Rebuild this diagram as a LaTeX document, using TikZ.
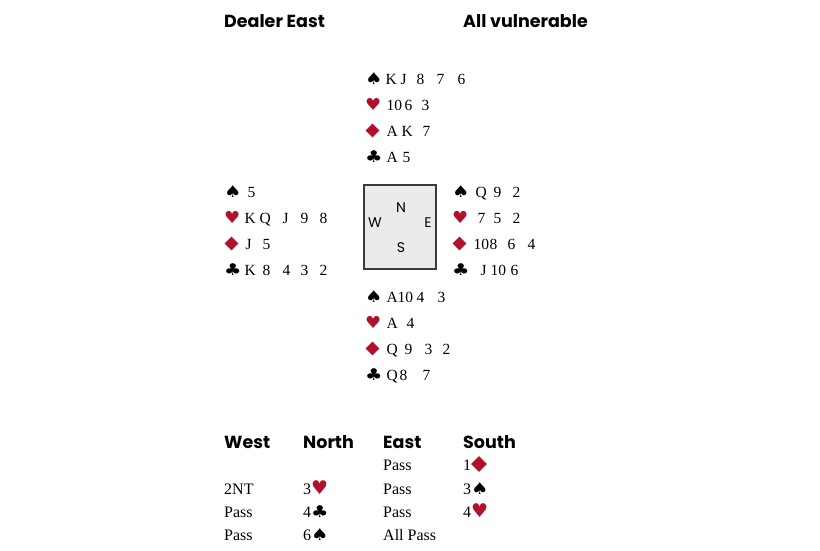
\documentclass[tikz,border=0pt]{standalone}
\usepackage{fontspec}
\usetikzlibrary{shapes.geometric}
\setmainfont{Liberation Serif}
\newfontfamily\hdrfont{Poppins}
\newfontfamily\suitfont{DejaVu Sans}
\definecolor{suitred}{RGB}{176,18,44}
\definecolor{boxfill}{RGB}{235,235,235}
\definecolor{boxline}{RGB}{60,60,60}
\newcommand\C[2]{\makebox[0pt][l]{\hspace{#1pt}#2}}
\newcommand\wsym[1]{\scalebox{1.08}[0.9]{#1}}
\tikzset{
  hdr/.style={anchor=base west, inner sep=0pt, font=\hdrfont\bfseries\fontsize{17.5}{17.5}\selectfont},
  cardtxt/.style={anchor=base west, inner sep=0pt, font=\fontsize{15.5}{15.5}\selectfont},
  suitsym/.style={anchor=base west, inner sep=0pt, font=\suitfont\fontsize{18}{18}\selectfont},
  diasym/.style={diamond, fill=suitred, inner sep=0pt, minimum width=14pt, minimum height=14pt},
  bidtxt/.style={anchor=base west, inner sep=0pt, font=\fontsize{16}{16}\selectfont},
  compass/.style={anchor=base, inner sep=0pt, font=\hdrfont\fontsize{14}{14}\selectfont},
  tablebox/.style={draw=boxline, fill=boxfill, line width=1.4pt}
}
% #1 prefix, #2 x of suit symbol, #3 baseline of first row, #4..#7 card lines
\newcommand\handrows[7]{%
  \node[suitsym] (#1sps) at (#2,#3) {\wsym{♠}};
  \node[cardtxt] (#1sp) at (#2+20,#3) {#4};
  \node[suitsym, text=suitred] (#1hes) at (#2,#3+26) {\scalebox{1.0}[0.92]{♥}};
  \node[cardtxt] (#1he) at (#2+20,#3+26) {#5};
  \node[diasym] (#1dis) at (#2+7.5,#3+52-5.5) {};
  \node[cardtxt] (#1di) at (#2+20,#3+52) {#6};
  \node[suitsym] (#1cls) at (#2,#3+78) {\wsym{♣}};
  \node[cardtxt] (#1cl) at (#2+20,#3+78) {#7};
}
\begin{document}
\begin{tikzpicture}[x=1pt,y=-1pt]
\useasboundingbox (0,0) rectangle (820,550);
% header
\node[hdr] (dealer) at (224,27) {Dealer East};
\node[hdr] (vul) at (463,27) {All vulnerable};
% North
\handrows{n}{365}{84}
  {\C{0}{K}\C{15}{J}\C{31}{8}\C{51}{7}\C{72}{6}\hspace{80pt}}
  {\C{1}{10}\C{19}{6}\C{36}{3}\hspace{44pt}}
  {\C{1}{A}\C{16}{K}\C{37}{7}\hspace{45pt}}
  {\C{1}{A}\C{17}{5}\hspace{25pt}}
% West
\handrows{w}{224}{197}
  {\C{3}{5}\hspace{11pt}}
  {\C{0}{K}\C{15}{Q}\C{38}{J}\C{56}{9}\C{75}{8}\hspace{83pt}}
  {\C{1}{J}\C{18}{5}\hspace{26pt}}
  {\C{0}{K}\C{18}{8}\C{38}{4}\C{56}{3}\C{75}{2}\hspace{83pt}}
% East
\handrows{e}{452}{197}
  {\C{3}{Q}\C{21}{9}\C{40}{2}\hspace{48pt}}
  {\C{5}{7}\C{21}{5}\C{40}{2}\hspace{48pt}}
  {\C{1}{10}\C{17}{8}\C{35}{6}\C{55}{4}\hspace{63pt}}
  {\C{8}{J}\C{18}{10}\C{38}{6}\hspace{46pt}}
% South
\handrows{s}{365}{302}
  {\C{1}{A}\C{12}{10}\C{31}{4}\C{52}{3}\hspace{60pt}}
  {\C{1}{A}\C{21}{4}\hspace{29pt}}
  {\C{1}{Q}\C{19}{9}\C{39}{3}\C{57}{2}\hspace{65pt}}
  {\C{1}{Q}\C{14}{8}\C{37}{7}\hspace{45pt}}
% table
\node[tablebox, minimum width=72pt, minimum height=84pt, inner sep=0pt] (table) at (400,227) {};
\node[compass] (cn) at (401,212.5) {N};
\node[compass] (cw) at (375,227.5) {W};
\node[compass] (ce) at (428,227.5) {E};
\node[compass] (cs) at (401,252.5) {S};
% auction
\node[hdr] (hw) at (224,448) {West};
\node[hdr] (hn) at (303,448) {North};
\node[hdr] (he) at (383,448) {East};
\node[hdr] (hs) at (463,448) {South};
\node[bidtxt] (b1e) at (383,470) {Pass};
\node[bidtxt] (b1s) at (463,470) {1};
\node[diasym, minimum width=16pt, minimum height=16pt] (b1sd) at (479,464) {};
\node[bidtxt] (b2w) at (224,494) {2NT};
\node[bidtxt] (b2n) at (303,494) {3{\suitfont\fontsize{19}{19}\selectfont\color{suitred}♥}};
\node[bidtxt] (b2e) at (383,494) {Pass};
\node[bidtxt] (b2s) at (463,494) {3{\suitfont\fontsize{18}{18}\selectfont\wsym{♠}}};
\node[bidtxt] (b3w) at (224,517) {Pass};
\node[bidtxt] (b3n) at (303,517) {4{\suitfont\fontsize{18}{18}\selectfont\wsym{♣}}};
\node[bidtxt] (b3e) at (383,517) {Pass};
\node[bidtxt] (b3s) at (463,517) {4{\suitfont\fontsize{19}{19}\selectfont\color{suitred}♥}};
\node[bidtxt] (b4w) at (224,540) {Pass};
\node[bidtxt] (b4n) at (303,540) {6{\suitfont\fontsize{18}{18}\selectfont\wsym{♠}}};
\node[bidtxt] (b4e) at (383,540) {All Pass};
\end{tikzpicture}
\end{document}
